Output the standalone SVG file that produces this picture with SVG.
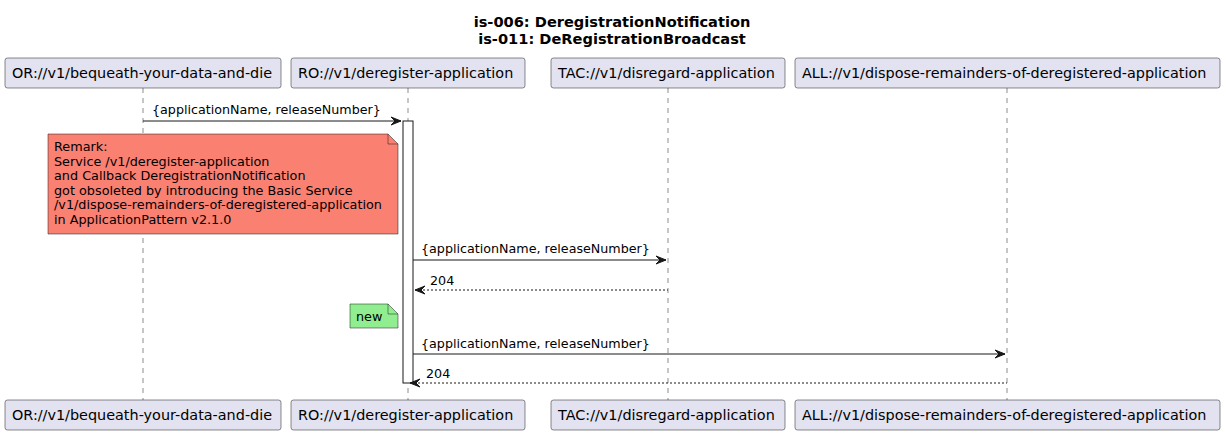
<svg xmlns="http://www.w3.org/2000/svg" width="1226" height="435" viewBox="0 0 1226 435">
<style>
text{font-family:"DejaVu Sans","Liberation Sans",sans-serif;fill:#000}
.title{font-size:14.6px;font-weight:bold;text-anchor:middle}
.part rect{fill:#E2E2F0;stroke:#181818;stroke-width:0.5}
.part text{font-size:14.4px}
.life{stroke:#181818;stroke-width:0.5;stroke-dasharray:5,5;fill:none}
.msg{stroke:#181818;stroke-width:1;fill:none}
.ret{stroke:#181818;stroke-width:1;fill:none;stroke-dasharray:2,2}
.head{fill:#181818;stroke:#181818;stroke-width:1}
.lbl{font-size:12.7px}
.note path{stroke:#181818;stroke-width:0.5}
.note text{font-size:12.8px}
.act{fill:#FFFFFF;stroke:#181818;stroke-width:1}
</style>
<g id="title">
<text class="title" x="612" y="27">is-006: DeregistrationNotification</text>
<text class="title" x="612" y="44">is-011: DeRegistrationBroadcast</text>
</g>
<g id="lifelines">
<line class="life" x1="143" y1="88" x2="143" y2="400"/>
<line class="life" x1="408" y1="88" x2="408" y2="400"/>
<line class="life" x1="668" y1="88" x2="668" y2="400"/>
<line class="life" x1="1007" y1="88" x2="1007" y2="400"/>
</g>
<g id="p1" class="part">
<rect x="5" y="58" width="276" height="30" rx="2.5"/>
<text x="12" y="78">OR://v1/bequeath-your-data-and-die</text>
<rect x="5" y="400" width="276" height="30" rx="2.5"/>
<text x="12" y="420">OR://v1/bequeath-your-data-and-die</text>
</g>
<g id="p2" class="part">
<rect x="291" y="58" width="234" height="30" rx="2.5"/>
<text x="298" y="78">RO://v1/deregister-application</text>
<rect x="291" y="400" width="234" height="30" rx="2.5"/>
<text x="298" y="420">RO://v1/deregister-application</text>
</g>
<g id="p3" class="part">
<rect x="551" y="58" width="234" height="30" rx="2.5"/>
<text x="558" y="78">TAC://v1/disregard-application</text>
<rect x="551" y="400" width="234" height="30" rx="2.5"/>
<text x="558" y="420">TAC://v1/disregard-application</text>
</g>
<g id="p4" class="part">
<rect x="795" y="58" width="425" height="30" rx="2.5"/>
<text x="802" y="78">ALL://v1/dispose-remainders-of-deregistered-application</text>
<rect x="795" y="400" width="425" height="30" rx="2.5"/>
<text x="802" y="420">ALL://v1/dispose-remainders-of-deregistered-application</text>
</g>
<g id="activation">
<rect class="act" x="403" y="121" width="10" height="262"/>
</g>
<g id="note-remark" class="note">
<path d="M48,134 L388,134 L398,144 L398,234 L48,234 Z" fill="#FA8072"/>
<path d="M388,134 L388,144 L398,144" fill="none"/>
<text x="54" y="151">Remark:</text>
<text x="54" y="166">Service /v1/deregister-application</text>
<text x="54" y="180">and Callback DeregistrationNotification</text>
<text x="54" y="195">got obsoleted by introducing the Basic Service</text>
<text x="54" y="209">/v1/dispose-remainders-of-deregistered-application</text>
<text x="54" y="224">in ApplicationPattern v2.1.0</text>
</g>
<g id="note-new" class="note">
<path d="M350,304 L388,304 L398,314 L398,328 L350,328 Z" fill="#90EE90"/>
<path d="M388,304 L388,314 L398,314" fill="none"/>
<text x="356" y="321">new</text>
</g>
<g id="connectors">
<line class="msg" x1="143" y1="121" x2="401" y2="121"/>
<polygon class="head" points="391,117 401,121 391,125 395,121"/>
<text class="lbl" x="152" y="114">{applicationName, releaseNumber}</text>
<line class="msg" x1="413" y1="260" x2="666" y2="260"/>
<polygon class="head" points="656,256 666,260 656,264 660,260"/>
<text class="lbl" x="421" y="253">{applicationName, releaseNumber}</text>
<line class="ret" x1="415" y1="290" x2="668" y2="290"/>
<polygon class="head" points="425,286 415,290 425,294 421,290"/>
<text class="lbl" x="430" y="285">204</text>
<line class="msg" x1="413" y1="354" x2="1005" y2="354"/>
<polygon class="head" points="995,350 1005,354 995,358 999,354"/>
<text class="lbl" x="421" y="348">{applicationName, releaseNumber}</text>
<line class="ret" x1="410" y1="383" x2="1007" y2="383"/>
<polygon class="head" points="420,379 410,383 420,387 416,383"/>
<text class="lbl" x="426" y="378">204</text>
</g>
</svg>
